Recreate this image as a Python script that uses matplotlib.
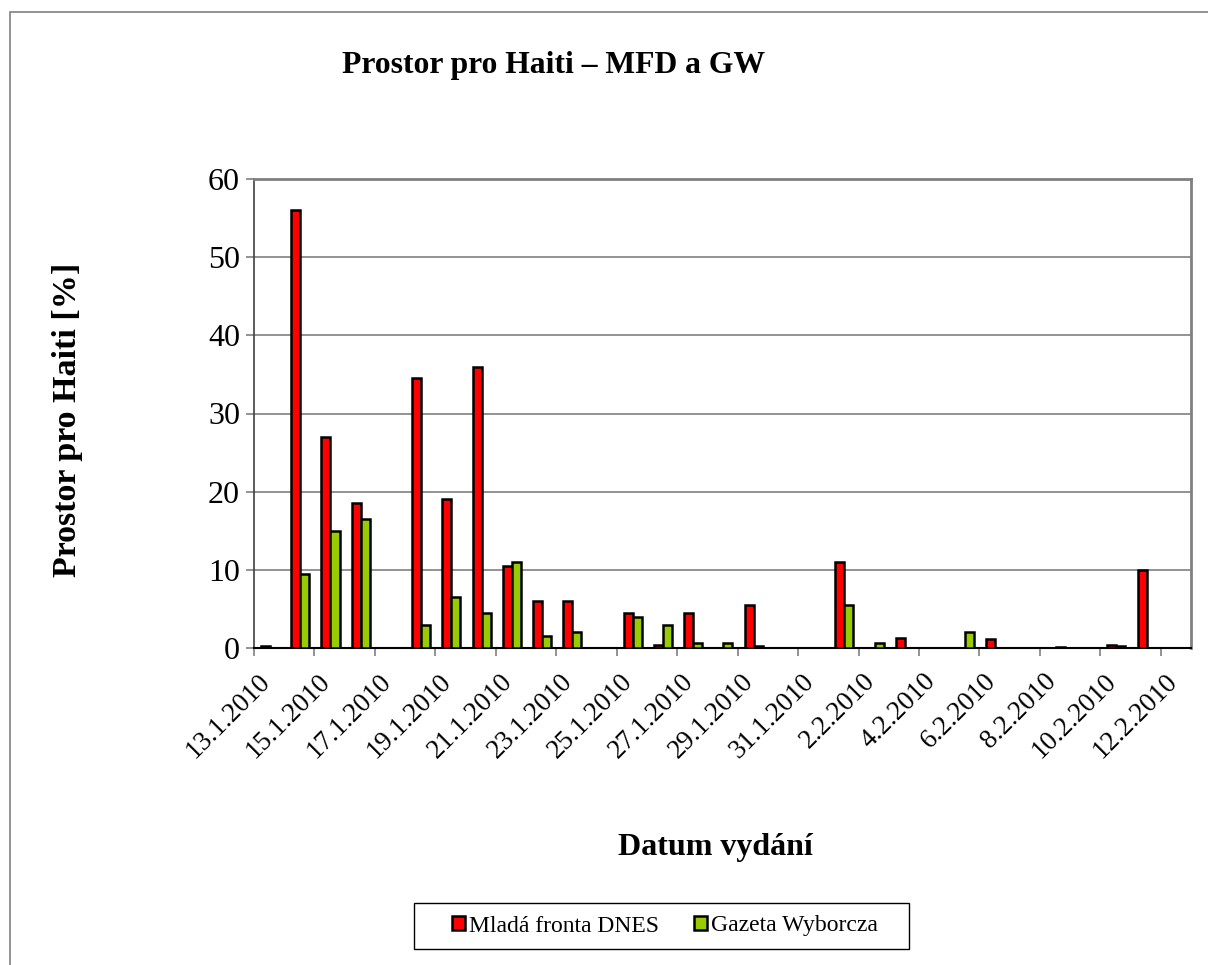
import matplotlib.pyplot as plt
import matplotlib.patches as patches
import numpy as np

# data (13.1.2010 - 12.2.2010, one value per day)
dates = ['13.1.2010', '14.1.2010', '15.1.2010', '16.1.2010', '17.1.2010', '18.1.2010',
         '19.1.2010', '20.1.2010', '21.1.2010', '22.1.2010', '23.1.2010', '24.1.2010',
         '25.1.2010', '26.1.2010', '27.1.2010', '28.1.2010', '29.1.2010', '30.1.2010',
         '31.1.2010', '1.2.2010', '2.2.2010', '3.2.2010', '4.2.2010', '5.2.2010',
         '6.2.2010', '7.2.2010', '8.2.2010', '9.2.2010', '10.2.2010', '11.2.2010',
         '12.2.2010']
mfd = [0.3, 56, 27, 18.5, 0, 34.5, 19, 36, 10.5, 6, 6, 0,
       4.5, 0.4, 4.5, 0, 5.5, 0, 0, 11, 0, 1.3, 0, 0,
       1.1, 0, 0, 0, 0.4, 10, 0]
gw = [0, 9.5, 15, 16.5, 0, 3, 6.5, 4.5, 11, 1.5, 2, 0,
      4, 3, 0.6, 0.7, 0.2, 0, 0, 5.5, 0.6, 0, 0, 2,
      0, 0, 0.15, 0, 0.3, 0, 0]
series_names = ['Mladá fronta DNES', 'Gazeta Wyborcza']

plt.rcParams['font.family'] = ['Liberation Serif', 'DejaVu Serif']

W, H = 1208, 965
fig = plt.figure(figsize=(W / 100, H / 100), dpi=100)
ax = fig.add_axes([254 / W, 1 - 648 / H, (1191 - 254) / W, (648 - 179) / H])

# outer chart border (runs off the right and bottom edge)
fig.patches.append(patches.Rectangle((10 / W, -0.1), 1.2, 1.1 - 12 / H,
                                     transform=fig.transFigure, fill=False,
                                     edgecolor='#808080', linewidth=1.2))

x = np.arange(len(dates))
bw = 0.3
ax.bar(x - bw / 2 + 0.03, mfd, bw, color='#FF0000', edgecolor='black', linewidth=1.8,
       label=series_names[0], zorder=3)
ax.bar(x + bw / 2 + 0.03, gw, bw, color='#99CC00', edgecolor='black', linewidth=1.8,
       label=series_names[1], zorder=3)

ax.set_xlim(-0.5, len(dates) - 0.5)
ax.set_ylim(0, 60)
ax.set_yticks(np.arange(0, 61, 10))
ax.yaxis.grid(True, color='#808080', linewidth=1.2, zorder=0)

# tick marks between categories, labels at every second category
ax.set_xticks(np.arange(-0.5, len(dates) - 1, 2))
ax.set_xticklabels([])
ax.set_xticks(x[::2] - 0.38, minor=True)
ax.set_xticklabels(dates[::2], minor=True, rotation=45, ha='right',
                   rotation_mode='anchor', fontsize=19.5)
ax.tick_params(axis='x', which='minor', length=0, pad=15)
ax.tick_params(axis='x', which='major', length=6, width=1.2, color='#808080')
ax.tick_params(axis='y', length=6, width=1.2, labelsize=23, pad=4, color='#808080')

for s in ['top', 'right']:
    ax.spines[s].set_color('#808080')
    ax.spines[s].set_linewidth(2)
ax.spines['left'].set_color('#404040')
ax.spines['left'].set_linewidth(1.2)
ax.spines['bottom'].set_color('black')
ax.spines['bottom'].set_linewidth(1.5)

fig.text(554 / W, 1 - 66 / H, 'Prostor pro Haiti – MFD a GW', ha='center', va='center',
         fontsize=22.8, fontweight='bold')
fig.text(68 / W, 1 - 420 / H, 'Prostor pro Haiti [%]', ha='center', va='center',
         rotation=90, fontsize=24.5, fontweight='bold')
fig.text(715 / W, 1 - 848 / H, 'Datum vydání', ha='center', va='center',
         fontsize=23, fontweight='bold')

# legend box drawn separately, entries centered inside it
fig.patches.append(patches.Rectangle((414 / W, 1 - 949 / H), (909 - 414) / W, 46 / H,
                                     transform=fig.transFigure, fill=False,
                                     edgecolor='black', linewidth=1.0))
leg = fig.legend(loc='center', bbox_to_anchor=(665 / W, 1 - 926 / H), ncol=2,
                 fontsize=17, frameon=False,
                 handlelength=0.55, handleheight=0.55, handletextpad=0.2,
                 columnspacing=1.45, borderpad=0, borderaxespad=0)
for h in leg.legend_handles:
    h.set_linewidth(1.8)

fig.savefig('out.png', dpi=100)
